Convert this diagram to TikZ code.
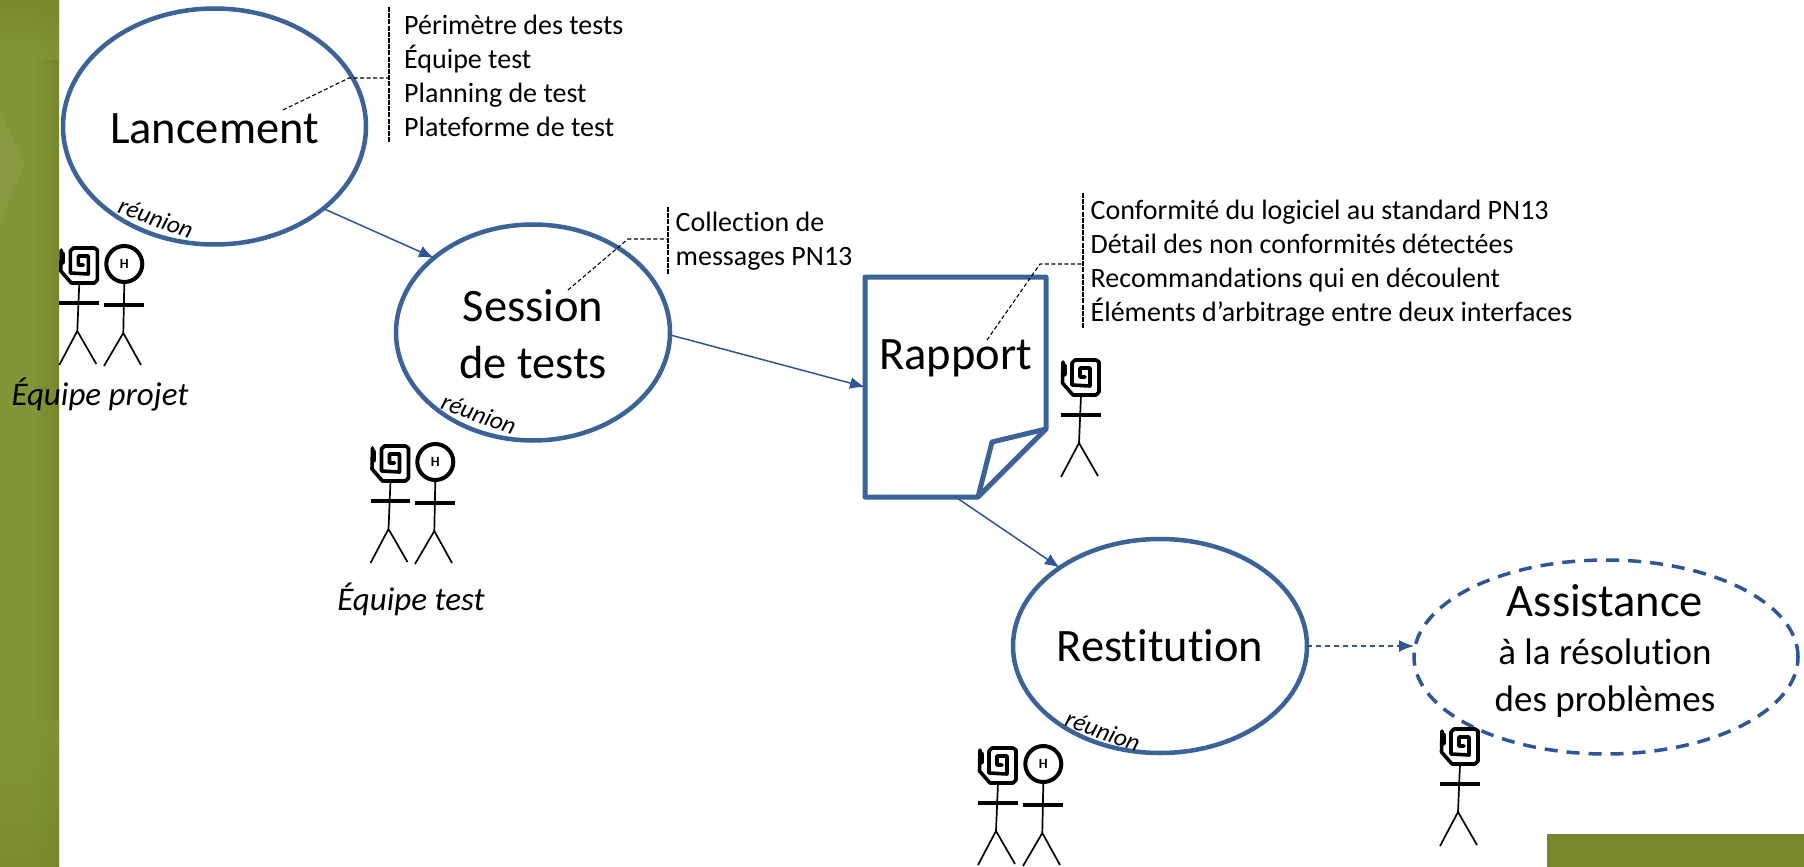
\documentclass[tikz,border=0pt]{standalone}
\usepackage{fontspec}
\setmainfont[Ligatures=NoCommon]{Carlito}
\usetikzlibrary{shapes.geometric,arrows.meta}
\definecolor{barg}{HTML}{76862B}
\definecolor{barl}{HTML}{839539}
\definecolor{bluel}{HTML}{3B6397}
\definecolor{bluec}{HTML}{2F5597}
\tikzset{
  x=1pt,y=-1pt,
  phase/.style={ellipse,draw=bluel,line width=4.5pt,inner sep=0pt,outer sep=0pt,align=center,font=\fontsize{46.5}{57}\selectfont},
  flow/.style={draw=bluec,line width=1.5pt,-{Latex[length=15pt,width=12pt]}},
  call/.style={draw=black,line width=1.1pt,dash pattern=on 4pt off 2.5pt},
  callv/.style={draw=black,line width=1.1pt,dash pattern=on 5pt off 1.2pt},
  info/.style={anchor=west,inner sep=0pt,font=\fontsize{28}{33.8}\selectfont,align=left},
  who/.style={font=\itshape\fontsize{33}{33}\selectfont,inner sep=0pt},
  reun/.style={inner sep=0pt,rotate=-20,font=\itshape\fontsize{25}{25}\selectfont},
  lim/.style={line width=1.7pt,black},
  limb/.style={line width=4pt,black},
  pics/spiral/.style={code={
    \draw[line width=3.6pt,line join=round,line cap=round] (2,2)--(1.5,23)--(12,35)--(35,35)--(38,32)--(38,2)--(35,0)--(14,0)--(11,3)--(11,25)--(29,26)--(29,8)--(19,8)--(19,17)--(24,17);
    \draw[line width=5.5pt,line cap=round] (3,6)--(3,14);
    \draw[limb] (0,55)--(39.5,55);
    \draw[lim] (20,35)--(18,83) (0,117)--(18,83)--(37,116);
  }},
  pics/hman/.style={code={
    \draw[line width=4pt] (20.3,16) circle[radius=18];
    \node[inner sep=0pt,font=\bfseries\fontsize{14}{14}\selectfont] at (20.3,16) {H};
    \draw[limb] (0,57)--(40,57);
    \draw[lim] (20.3,35)--(19.3,85) (0,118)--(19.3,85)--(37,117);
  }},
}
\begin{document}
\begin{tikzpicture}
\useasboundingbox (0,0) rectangle (1804,867);
\fill[white] (0,0) rectangle (1804,867);
\fill[barl] (0,0) rectangle (59,867);
\shade[left color=barl,right color=barg] (32,0) rectangle (59,867);
\shade[top color=barg,bottom color=barl,opacity=.8] (0,0) rectangle (59,60);
\shade[top color=barl,bottom color=barg,opacity=.6] (0,720) rectangle (59,867);
\fill[barl!92!white,opacity=.5] (0,110) -- (25,165) -- (0,222) -- cycle;
\fill[barg] (1547,834) rectangle (1804,867);

\node[phase,minimum width=303pt,minimum height=236pt] (lanc) at (214.5,126.5) {\rule{0pt}{35pt}Lancement};
\node[phase,minimum width=274pt,minimum height=216pt] (sess) at (533,332.5) {\rule{0pt}{36pt}Session\\de tests};
\node[phase,minimum width=294pt,minimum height=214pt] (rest) at (1160,646) {\rule{0pt}{32pt}Restitution};
\node[phase,draw=bluec,dash pattern=on 13pt off 9pt,line width=3.5pt,minimum width=384pt,minimum height=194pt] (assi) at (1606,657) {};
\node[inner sep=0pt,align=center,font=\fontsize{37}{47.5}\selectfont] (assitxt) at (1605,651) {{\fontsize{46.5}{48}\selectfont Assistance}\\à la résolution\\des problèmes};

\node[minimum width=181pt,minimum height=220pt,inner sep=0pt,outer sep=0pt] (rapp) at (955.5,387) {};
\draw[bluel,line width=5pt,line join=round] (rapp.north west)--(rapp.north east)--(1046,429)--(978,497)--(rapp.south west)--cycle;
\draw[bluel,line width=5pt,line join=round] (1046,429)--(992,442)--(978,497);
\node[inner sep=0pt,font=\fontsize{46.5}{46.5}\selectfont] (rapptxt) at (955.5,358) {Rapport};

\draw[flow] (lanc.-37.7)--(sess.143);
\draw[flow] (sess.-1)--(rapp.west);
\draw[flow] (rapp.south)--(rest.142);
\draw[flow,dash pattern=on 5pt off 4pt] (rest.east)--(assi.west |- rest.east);

\coordinate (l0) at (283,110); \coordinate (l1) at (349,78); \coordinate (l2) at (389,78);
\coordinate (l3) at (389,7); \coordinate (l4) at (389,142);
\draw[call] (l0)--(l1)--(l2); \draw[callv] (l3)--(l4);
\coordinate (s0) at (568,290); \coordinate (s1) at (628,239); \coordinate (s2) at (668,239);
\coordinate (s3) at (668,207); \coordinate (s4) at (668,274);
\draw[call] (s0)--(s1)--(s2); \draw[callv] (s3)--(s4);
\coordinate (r0) at (987,340); \coordinate (r1) at (1040,264); \coordinate (r2) at (1083,264);
\coordinate (r3) at (1083,193); \coordinate (r4) at (1083,328);
\draw[call] (r0)--(r1)--(r2); \draw[callv] (r3)--(r4);

\node[info] (ltxt) at (404,76) {Périmètre des tests\\Équipe test\\Planning de test\\Plateforme de test};
\node[info] (stxt) at (675.5,241) {Collection de\\messages PN13};
\node[info] (rtxt) at (1090.5,263) {Conformité du logiciel au standard PN13\\Détail des non conformités détectées\\Recommandations qui en découlent\\Éléments d’arbitrage entre deux interfaces};

\node[reun] (r1t) at (156,218) {réunion};
\node[reun] (r2t) at (479,414) {réunion};
\node[reun] (r3t) at (1103,731) {réunion};

\pic at (59.3,248) {spiral}; \pic at (104,248) {hman};
\pic at (370.5,446) {spiral}; \pic at (415,446) {hman};
\pic at (978,748) {spiral}; \pic at (1023,748) {hman};
\pic at (1061,360) {spiral};
\pic at (1440,729) {spiral};

\node[who] (wp) at (100,395) {Équipe projet};
\node[who] (wt) at (411,599) {Équipe test};
\end{tikzpicture}
\end{document}
